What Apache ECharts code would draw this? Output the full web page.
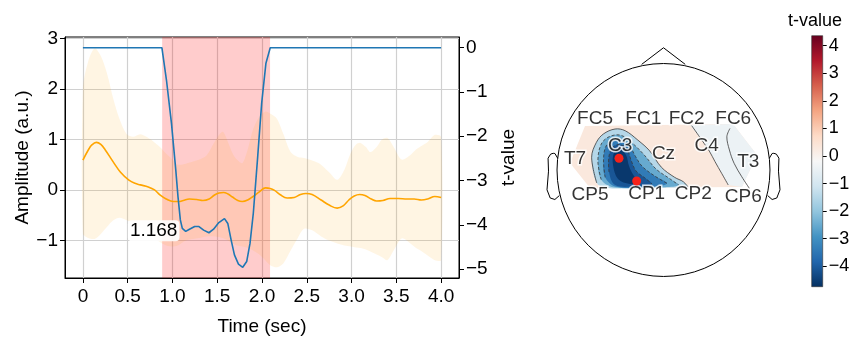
<!DOCTYPE html>
<html>
<head>
<meta charset="utf-8">
<script src="https://cdn.jsdelivr.net/npm/echarts/dist/echarts.min.js"></script>
<style>
html, body { margin: 0; padding: 0; background: #fff; }
#chart { width: 856px; height: 338px; }
</style>
</head>
<body>
<div id="chart"></div>
<script>
// ---- left panel: amplitude (mean +/- band) and t-value over time ----
var bandTime = [0, 0.06, 0.13, 0.2, 0.27, 0.34, 0.41, 0.49, 0.56, 0.64, 0.71, 0.78, 0.86, 0.93, 1.0, 1.06, 1.15, 1.23, 1.3, 1.38,
  1.47, 1.56, 1.62, 1.67, 1.72, 1.78, 1.84, 1.9, 1.97, 2.04, 2.1, 2.17, 2.24, 2.32, 2.4, 2.47, 2.56, 2.66, 2.75, 2.84,
  2.92, 2.99, 3.05, 3.1, 3.16, 3.21, 3.28, 3.34, 3.4, 3.47, 3.56, 3.65, 3.72, 3.77, 3.85, 3.93, 4.0];
var bandHigh = [2.0, 2.55, 2.8, 2.65, 2.3, 1.8, 1.4, 1.1, 1.05, 1.1, 1.05, 0.97, 0.85, 0.72, 0.6, 0.5, 0.52, 0.56, 0.6, 0.68,
  0.95, 1.15, 0.95, 0.73, 0.6, 0.53, 0.8, 1.2, 1.45, 1.55, 1.5, 1.4, 1.1, 0.75, 0.65, 0.63, 0.58, 0.5, 0.35, 0.2,
  0.4, 0.73, 0.9, 0.93, 0.85, 0.75, 0.85, 1.0, 1.03, 0.85, 0.6, 0.68, 0.8, 0.86, 0.95, 1.09, 1.05];
var bandLow = [-0.86, -0.95, -0.97, -0.87, -0.73, -0.6, -0.55, -0.6, -0.66, -0.75, -0.83, -0.93, -1.03, -1.1, -1.12, -1.1, -1.0, -0.97, -0.95, -0.92,
  -0.92, -0.95, -1.0, -1.06, -1.1, -1.12, -1.15, -1.2, -1.28, -1.4, -1.5, -1.53, -1.45, -1.2, -0.95, -0.77, -0.8, -0.92, -1.0, -1.06,
  -1.1, -1.12, -1.14, -1.15, -1.18, -1.22, -1.28, -1.33, -1.39, -1.2, -0.96, -1.05, -1.15, -1.2, -1.3, -1.39, -1.39];

var meanTime = [0, 0.06, 0.1, 0.15, 0.2, 0.25, 0.34, 0.42, 0.51, 0.58, 0.64, 0.73, 0.8, 0.86, 0.93, 1.01, 1.07, 1.12, 1.19, 1.27,
  1.34, 1.41, 1.47, 1.52, 1.57, 1.62, 1.67, 1.73, 1.78, 1.84, 1.9, 1.97, 2.04, 2.09, 2.14, 2.2, 2.28, 2.36, 2.43, 2.49,
  2.56, 2.66, 2.75, 2.84, 2.91, 2.97, 3.03, 3.09, 3.15, 3.22, 3.28, 3.35, 3.43, 3.52, 3.62, 3.7, 3.78, 3.85, 3.93, 4.0];
var meanAmp = [0.59, 0.79, 0.89, 0.94, 0.9, 0.79, 0.55, 0.35, 0.2, 0.13, 0.1, 0.06, 0.0, -0.1, -0.18, -0.23, -0.23, -0.21, -0.18, -0.19,
  -0.21, -0.18, -0.1, -0.06, -0.05, -0.08, -0.14, -0.21, -0.23, -0.2, -0.13, -0.04, 0.04, 0.03, -0.01, -0.09, -0.16, -0.15, -0.09, -0.07,
  -0.09, -0.2, -0.3, -0.36, -0.31, -0.2, -0.12, -0.09, -0.11, -0.18, -0.22, -0.21, -0.17, -0.17, -0.18, -0.18, -0.2, -0.18, -0.13, -0.15];

var tTime = [0, 0.882, 0.933, 0.989, 1.037, 1.062, 1.088, 1.11, 1.148, 1.19, 1.248, 1.296, 1.348, 1.407, 1.459, 1.518, 1.581, 1.618,
  1.655, 1.692, 1.737, 1.785, 1.829, 1.866, 1.903, 1.952, 1.996, 2.044, 2.092, 4.0];
var tValue = [0, 0, -0.73, -1.71, -2.76, -3.37, -3.89, -4.08, -4.15, -4.1, -4.04, -4.04, -4.12, -4.18, -4.1, -3.95, -3.86, -3.97,
  -4.34, -4.68, -4.89, -4.96, -4.83, -4.42, -3.74, -2.46, -1.26, -0.35, 0, 0];

var sigWindow = [0.885, 2.09];
var annotText = '1.168';
var annotAt = [0.79, -0.81];

var timeTicks = [0, 0.5, 1, 1.5, 2, 2.5, 3, 3.5, 4];
var ampTicks = [-1, 0, 1, 2, 3];
var tTicks = [0, -1, -2, -3, -4, -5];

// ---- right panel: topomap (head units, radius 1) ----
var chNames = ['FC5', 'FC1', 'FC2', 'FC6', 'C3', 'Cz', 'C4', 'T7', 'T3', 'CP5', 'CP1', 'CP2', 'CP6'];
var chX = [-0.643, -0.19, 0.218, 0.655, -0.408, 0, 0.406, -0.831, 0.796, -0.69, -0.158, 0.28, 0.749];
var chY = [0.479, 0.479, 0.479, 0.479, 0.225, 0.157, 0.225, 0.11, 0.078, -0.235, -0.219, -0.219, -0.251];
var maskNames = ['C3', 'CP1'];
var maskX = [-0.418, -0.252];
var maskY = [0.11, -0.103];

// filled contour regions, value = t-value of the region
var hull = [[-0.737, 0.413], [0.653, 0.432], [0.878, 0.141], [0.737, -0.16], [-0.69, -0.169], [-0.878, 0.066]];
var rightZone = [[0.249, 0.423], [0.359, 0.282], [0.43, 0.178], [0.484, 0.078], [0.546, -0.031], [0.608, -0.141],
  [0.737, -0.16], [0.878, 0.141], [0.653, 0.432]];
var levelA = [[-0.627, -0.122], [-0.675, 0.12], [-0.63, 0.26], [-0.565, 0.338], [-0.455, 0.385], [-0.36, 0.369], [-0.24, 0.28],
  [-0.13, 0.18], [-0.02, 0.026], [0.105, -0.069], [0.186, -0.11], [0.23, -0.16], [0.108, -0.165], [-0.299, -0.169], [-0.518, -0.169]];
var levelB = [[-0.585, -0.091], [-0.616, 0.082], [-0.585, 0.243], [-0.506, 0.315], [-0.396, 0.325], [-0.282, 0.243], [-0.174, 0.133],
  [-0.07, 0.009], [0.055, -0.079], [0.144, -0.142], [0.014, -0.162], [-0.455, -0.164]];
var levelC = [[-0.548, -0.069], [-0.563, 0.107], [-0.532, 0.237], [-0.434, 0.284], [-0.331, 0.243], [-0.264, 0.129], [-0.201, 0.035],
  [-0.086, -0.054], [0.034, -0.126], [-0.143, -0.16], [-0.444, -0.158]];
var levelD = [[-0.512, -0.019], [-0.512, 0.131], [-0.474, 0.216], [-0.408, 0.239], [-0.343, 0.197], [-0.305, 0.094], [-0.258, -0.009],
  [-0.174, -0.075], [-0.108, -0.131], [-0.268, -0.155], [-0.455, -0.141]];
var levelE = [[-0.474, 0.047], [-0.465, 0.16], [-0.408, 0.192], [-0.352, 0.141], [-0.324, 0.038], [-0.277, -0.056], [-0.221, -0.113],
  [-0.315, -0.131], [-0.427, -0.085]];
var topoShapes = [hull, rightZone, levelA, levelB, levelC, levelD, levelE];
var topoValues = [0.3, -0.45, -1.5, -2.5, -3.4, -4.1, -4.6];

// contour lines
var zeroLine1 = [[0.265, 0.416], [0.359, 0.282], [0.43, 0.178], [0.484, 0.078], [0.546, -0.031], [0.608, -0.141]];
var zeroLine2 = [[0.624, 0.39], [0.595, 0.312], [0.619, 0.188], [0.663, 0.063], [0.735, -0.063], [0.806, -0.172]];
var contourSolid = [levelA.slice(0, 12), zeroLine1, zeroLine2];
var contourDashed = [levelB.slice(0, 10), levelC.slice(0, 9), levelD.slice(0, 9)];

var cbMin = -4.74, cbMax = 4.36;
var cbTicks = [-4, -3, -2, -1, 0, 1, 2, 3, 4];

// head outline (MNE style)
var nose = [[-0.205, 0.992], [0, 1.148], [0.204, 0.992]];
var earX = [0.994, 1.02, 1.036, 1.06, 1.084, 1.08, 1.094, 1.064, 1.02, 0.978];
var earY = [0.111, 0.155, 0.157, 0.149, 0.111, -0.011, -0.186, -0.263, -0.277, -0.24];

var RDBU = ['#053061', '#2166ac', '#4393c3', '#92c5de', '#d1e5f0', '#f7f7f7', '#fddbc7', '#f4a582', '#d6604d', '#b2182b', '#67001f'];
var FONT = 'Liberation Sans, Arial, sans-serif';

function minus(v) {
  return String(v).replace('-', '\u2212');
}

function pairs(xs, ys) {
  return xs.map(function (x, i) { return [x, ys[i]]; });
}

var chart = echarts.init(document.getElementById('chart'));

var option = {
  animation: false,
  textStyle: { fontFamily: FONT },
  title: {
    text: 't-value', left: 815, top: 12, textAlign: 'center', padding: 0,
    textStyle: { fontSize: 18, fontWeight: 'normal', color: '#000', fontFamily: FONT }
  },
  grid: [
    { left: 65, top: 37, width: 394, height: 241, show: true, borderColor: '#000', borderWidth: 1, outerBoundsMode: 'none' },
    { left: 530.4, top: 36.9, width: 266.2, height: 266.2, outerBoundsMode: 'none' },
    { left: 811.7, top: 35.7, width: 11, height: 251, outerBoundsMode: 'none' }
  ],
  visualMap: {
    type: 'continuous',
    show: false,
    min: cbMin,
    max: cbMax,
    seriesIndex: 4,
    dimension: 2,
    inRange: { color: RDBU }
  },
  xAxis: [
    {
      gridIndex: 0, type: 'value', min: -0.2, max: 4.2,
      name: 'Time (sec)', nameLocation: 'middle', nameGap: 39,
      nameTextStyle: { fontSize: 19, color: '#000' },
      axisLine: { onZero: false, lineStyle: { color: '#000' } },
      axisTick: { customValues: timeTicks, length: 5, lineStyle: { color: '#000' } },
      axisLabel: {
        customValues: timeTicks, fontSize: 19, color: '#000', margin: 9,
        formatter: function (v) { return v === 0 ? '0' : v.toFixed(1); }
      },
      splitLine: { show: true, lineStyle: { color: '#d0d0d0', width: 1.2 } }
    },
    { gridIndex: 1, type: 'value', min: -1.25, max: 1.25, show: false },
    { gridIndex: 2, type: 'value', min: 0, max: 1, show: false }
  ],
  yAxis: [
    {
      gridIndex: 0, type: 'value', min: -1.743, max: 3.026,
      name: 'Amplitude (a.u.)', nameLocation: 'middle', nameGap: 30, nameRotate: 90,
      nameTextStyle: { fontSize: 19, color: '#000' },
      axisLine: { show: true, onZero: false, lineStyle: { color: '#000' } },
      axisTick: { show: true, customValues: ampTicks, length: 5, lineStyle: { color: '#000' } },
      axisLabel: { customValues: ampTicks, fontSize: 19, color: '#000', margin: 7, formatter: minus },
      splitLine: { show: true, lineStyle: { color: '#d0d0d0', width: 1.2 } }
    },
    {
      gridIndex: 0, type: 'value', position: 'right', min: -5.202, max: 0.242,
      name: 't-value', nameLocation: 'middle', nameGap: 40, nameRotate: 90,
      nameTextStyle: { fontSize: 19, color: '#000' },
      axisLine: { show: true, onZero: false, lineStyle: { color: '#000' } },
      axisTick: { show: true, customValues: tTicks, length: 5, lineStyle: { color: '#000' } },
      axisLabel: { customValues: tTicks, fontSize: 19, color: '#000', margin: 7, formatter: minus },
      splitLine: { show: false }
    },
    { gridIndex: 1, type: 'value', min: -1.25, max: 1.25, show: false },
    {
      gridIndex: 2, type: 'value', position: 'right', min: cbMin, max: cbMax,
      axisLine: { show: false, onZero: false },
      axisTick: { show: true, customValues: cbTicks, length: 4, lineStyle: { color: '#000' } },
      axisLabel: { customValues: cbTicks, fontSize: 18, color: '#000', margin: 6, formatter: minus },
      splitLine: { show: false }
    }
  ],
  series: [
    {
      // amplitude spread band, drawn between bandLow and bandHigh
      type: 'custom', xAxisIndex: 0, yAxisIndex: 0, silent: true, z: 1,
      data: [[0, 0]],
      renderItem: function (params, api) {
        var top = bandTime.map(function (t, i) { return api.coord([t, bandHigh[i]]); });
        var bottom = bandTime.map(function (t, i) { return api.coord([t, bandLow[i]]); }).reverse();
        return {
          type: 'polygon',
          shape: { points: top.concat(bottom), smooth: 0.3 },
          style: { fill: 'rgba(255,165,0,0.11)' }
        };
      }
    },
    {
      type: 'line', xAxisIndex: 0, yAxisIndex: 0, data: [], silent: true
    },
    {
      type: 'line', xAxisIndex: 0, yAxisIndex: 0, data: pairs(meanTime, meanAmp),
      smooth: 0.4, symbol: 'none', z: 3,
      lineStyle: { color: '#ffa500', width: 1.6 },
      markArea: {
        silent: true,
        itemStyle: { color: 'rgba(255,0,0,0.2)' },
        data: [[{ xAxis: sigWindow[0] }, { xAxis: sigWindow[1] }]]
      },
      markPoint: {
        symbol: 'rect', symbolSize: 1, itemStyle: { color: 'rgba(0,0,0,0)' },
        label: {
          show: true, position: 'inside', fontSize: 19, color: '#000',
          backgroundColor: 'rgba(255,255,255,0.9)', borderRadius: 4, padding: [1, 2],
          formatter: annotText
        },
        data: [{ coord: annotAt }]
      }
    },
    {
      type: 'line', xAxisIndex: 0, yAxisIndex: 1, data: pairs(tTime, tValue),
      symbol: 'none', z: 4,
      lineStyle: { color: '#1f77b4', width: 1.6 }
    },
    {
      type: 'custom', xAxisIndex: 1, yAxisIndex: 2, silent: true, z: 2,
      data: topoValues.map(function (v, i) { return [0, 0, v, i]; }),
      renderItem: function (params, api) {
        var shape = topoShapes[params.dataIndex];
        return {
          type: 'polygon',
          shape: { points: shape.map(function (p) { return api.coord(p); }), smooth: params.dataIndex < 2 ? 0 : 0.35 },
          style: { fill: api.visual('color') }
        };
      }
    },
    {
      type: 'custom', xAxisIndex: 1, yAxisIndex: 2, silent: true, z: 3,
      data: contourSolid.concat(contourDashed).map(function (c, i) { return [0, 0, i]; }),
      renderItem: function (params, api) {
        var all = contourSolid.concat(contourDashed);
        var dashed = params.dataIndex >= contourSolid.length;
        return {
          type: 'polyline',
          shape: { points: all[params.dataIndex].map(function (p) { return api.coord(p); }), smooth: 0.35 },
          style: { fill: null, stroke: '#3a3a3a', lineWidth: 0.8, lineDash: dashed ? [3, 2] : null }
        };
      }
    },
    {
      type: 'custom', xAxisIndex: 1, yAxisIndex: 2, silent: true, z: 4,
      data: [[0, 0]],
      renderItem: function (params, api) {
        var c = api.coord([0, 0]);
        var r = api.size([1, 0])[0];
        var rightEar = earX.map(function (x, i) { return api.coord([x, earY[i]]); });
        var leftEar = earX.map(function (x, i) { return api.coord([-x, earY[i]]); });
        var st = { fill: null, stroke: '#000', lineWidth: 1 };
        return {
          type: 'group',
          children: [
            { type: 'circle', shape: { cx: c[0], cy: c[1], r: r }, style: st },
            { type: 'polyline', shape: { points: nose.map(function (p) { return api.coord(p); }) }, style: st },
            { type: 'polyline', shape: { points: rightEar }, style: st },
            { type: 'polyline', shape: { points: leftEar }, style: st }
          ]
        };
      }
    },
    {
      type: 'scatter', xAxisIndex: 1, yAxisIndex: 2, silent: true, z: 5,
      symbolSize: 0,
      data: chNames.map(function (n, i) { return { value: [chX[i], chY[i]], name: n }; }),
      label: {
        show: true, position: 'inside', formatter: '{b}', fontSize: 19, color: '#000',
        textBorderColor: '#fff', textBorderWidth: 3
      }
    },
    {
      type: 'scatter', xAxisIndex: 1, yAxisIndex: 2, silent: true, z: 6,
      symbolSize: 9,
      itemStyle: { color: '#f5221a', opacity: 1 },
      data: maskNames.map(function (n, i) { return { value: [maskX[i], maskY[i]], name: n }; })
    },
    {
      type: 'custom', xAxisIndex: 2, yAxisIndex: 3, silent: true,
      data: [[0, cbMin]],
      renderItem: function (params, api) {
        var p0 = api.coord([0, cbMax]);
        var p1 = api.coord([1, cbMin]);
        return {
          type: 'rect',
          shape: { x: p0[0], y: p0[1], width: p1[0] - p0[0], height: p1[1] - p0[1] },
          style: {
            fill: new echarts.graphic.LinearGradient(0, 1, 0, 0, RDBU.map(function (col, i) {
              return { offset: i / (RDBU.length - 1), color: col };
            })),
            stroke: '#333', lineWidth: 0.6
          }
        };
      }
    }
  ]
};

chart.setOption(option);
</script>
</body>
</html>
